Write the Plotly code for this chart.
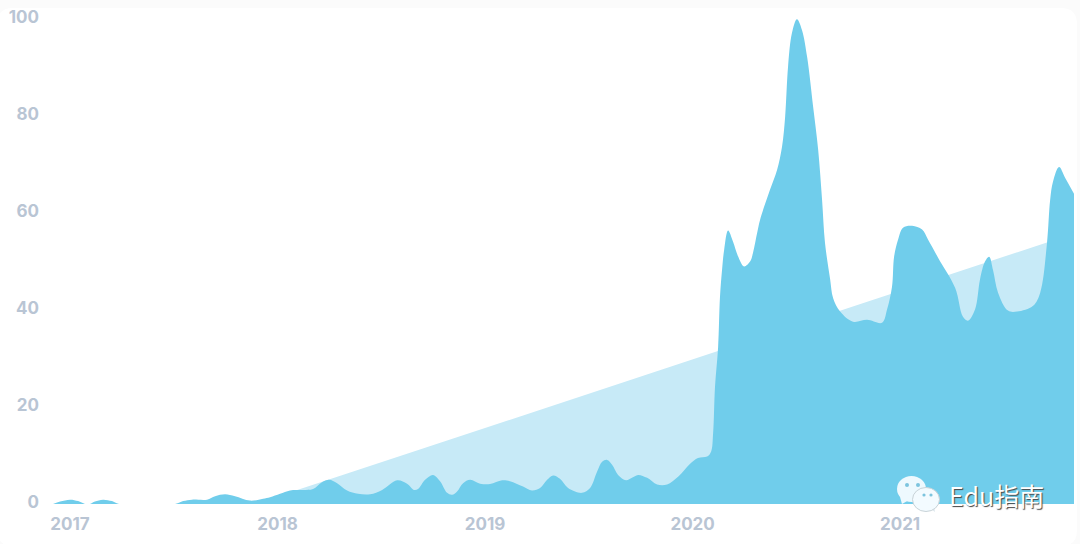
import plotly.graph_objects as go

# Decimal years and search-interest values
interest_x = [2016.918, 2016.952, 2017.0, 2017.039, 2017.072, 2017.096, 2017.12, 2017.159, 2017.202, 2017.236,
    2017.506, 2017.545, 2017.588, 2017.66, 2017.699, 2017.747, 2017.795, 2017.867, 2017.93, 2017.964,
    2018.012, 2018.06, 2018.123, 2018.171, 2018.214, 2018.248, 2018.287, 2018.335, 2018.388, 2018.446,
    2018.504, 2018.576, 2018.624, 2018.658, 2018.677, 2018.711, 2018.749, 2018.783, 2018.817, 2018.841,
    2018.865, 2018.894, 2018.928, 2018.976, 2019.024, 2019.082, 2019.12, 2019.183, 2019.226, 2019.265,
    2019.299, 2019.328, 2019.361, 2019.4, 2019.467, 2019.506, 2019.54, 2019.564, 2019.588, 2019.612,
    2019.641, 2019.679, 2019.708, 2019.737, 2019.781, 2019.829, 2019.877, 2019.93, 2019.988, 2020.026,
    2020.07, 2020.089, 2020.099, 2020.108, 2020.123, 2020.132, 2020.142, 2020.152, 2020.171, 2020.195,
    2020.219, 2020.248, 2020.277, 2020.291, 2020.311, 2020.325, 2020.373, 2020.407, 2020.431, 2020.446,
    2020.46, 2020.479, 2020.503, 2020.527, 2020.552, 2020.581, 2020.605, 2020.624, 2020.638, 2020.663,
    2020.677, 2020.711, 2020.773, 2020.841, 2020.913, 2020.937, 2020.961, 2020.971, 2020.99, 2021.014,
    2021.058, 2021.106, 2021.135, 2021.183, 2021.265, 2021.303, 2021.327, 2021.361, 2021.385, 2021.409,
    2021.429, 2021.448, 2021.472, 2021.52, 2021.564, 2021.641, 2021.675, 2021.708, 2021.723, 2021.737,
    2021.766, 2021.795, 2021.838]
interest_y = [0, 0.5, 0.9, 0.6, 0, 0, 0.5, 0.9, 0.6, 0,
    0, 0.6, 0.9, 0.9, 1.6, 2.0, 1.6, 0.7, 1.1, 1.4,
    2.1, 2.8, 2.9, 3.1, 4.5, 5.0, 4.3, 2.8, 2.1, 2.0,
    2.9, 4.9, 4.2, 2.9, 3.1, 5.0, 6.0, 4.7, 2.3, 1.9,
    2.6, 4.3, 5.0, 4.2, 4.1, 4.9, 4.7, 3.6, 2.8, 3.3,
    5.0, 5.9, 5.2, 3.3, 2.3, 3.3, 6.7, 8.7, 9.1, 8.1,
    6.0, 4.9, 5.4, 6.0, 5.4, 4.0, 4.0, 5.6, 8.3, 9.5,
    9.8, 10.8, 14.7, 24.2, 32.4, 42.7, 48.3, 52.4, 56.4, 54.1,
    51.1, 49.0, 50.0, 51.8, 55.9, 58.6, 64.8, 68.9, 73.7, 79.9,
    90.2, 97.2, 100, 97.8, 92.2, 81.9, 73.1, 62.7, 53.9, 46.3,
    42.5, 39.7, 37.6, 38.0, 37.4, 40.1, 44.8, 51.0, 54.5, 57.0,
    57.4, 56.6, 54.5, 50.8, 44.6, 38.6, 37.8, 40.1, 46.3, 50.0,
    51.0, 48.2, 43.6, 39.9, 39.7, 40.9, 43.6, 53.9, 62.7, 66.5,
    69.5, 67.3, 64.0]

trend_x = [2017.89, 2021.838]
trend_y = [0, 55.8]

year_ticks = [2017, 2018, 2019, 2020, 2021]
value_ticks = [0, 20, 40, 60, 80, 100]

DARK = "#70cdeb"
LIGHT = "#c7eaf7"
LABEL = "#b9c5d4"

# Plot-area box in page pixels, used only for decoration placement
L, R, T, B = 52, 1074, 10, 504
def px(v):
    return (v - L) / (R - L)
def py(v):
    return (B - v) / (B - T)

def circle(cx, cy, rx, ry, fill, line=None):
    return dict(type="circle", xref="paper", yref="paper", layer="above",
                x0=px(cx - rx), x1=px(cx + rx), y0=py(cy + ry), y1=py(cy - ry),
                fillcolor=fill, line=dict(width=1 if line else 0, color=line or fill))

def poly(points, fill):
    d = "M" + " L".join(f"{px(a):.5f},{py(b):.5f}" for a, b in points) + " Z"
    return dict(type="path", xref="paper", yref="paper", layer="above", path=d,
                fillcolor=fill, line=dict(width=0))

def card(x0, y0, x1, y1, r):
    c = lambda a, b: f"{px(a):.5f},{py(b):.5f}"
    d = (f"M{c(x0 + r, y0)} L{c(x1 - r, y0)} Q{c(x1, y0)} {c(x1, y0 + r)} "
         f"L{c(x1, y1 - r)} Q{c(x1, y1)} {c(x1 - r, y1)} L{c(x0 + r, y1)} "
         f"Q{c(x0, y1)} {c(x0, y1 - r)} L{c(x0, y0 + r)} Q{c(x0, y0)} {c(x0 + r, y0)} Z")
    return dict(type="path", xref="paper", yref="paper", layer="below", path=d,
                fillcolor="#ffffff", line=dict(width=0))

BUB = "#eef9fe"
shapes = [
    card(-3, 8, 1077, 546, 16),
    poly([(900, 497), (902, 504), (909, 500)], BUB),
    circle(911.5, 489, 14.5, 13, BUB),
    circle(907, 485, 2, 2, "#7cc4de"),
    circle(918, 485, 2, 2, "#7cc4de"),
    poly([(929, 508), (935, 512), (934, 505)], "#dfe9ee"),
    circle(926, 499.5, 13.5, 12, "#f3fbff", "#c8d3d8"),
    circle(924, 495, 1.6, 1.6, "#7cc4de"),
    circle(931, 495, 1.6, 1.6, "#7cc4de"),
]

fig = go.Figure()
fig.add_trace(go.Scatter(x=trend_x, y=trend_y, mode="lines", fill="tozeroy",
                         fillcolor=LIGHT, line=dict(width=0, color=LIGHT), hoverinfo="skip"))
fig.add_trace(go.Scatter(x=interest_x, y=interest_y, mode="lines", fill="tozeroy",
                         fillcolor=DARK, line=dict(width=0, color=DARK, shape="spline", smoothing=1),
                         hoverinfo="skip"))

tick_font = dict(family="Inter, sans-serif", size=17, color=LABEL, weight=700)
fig.update_layout(
    width=1080, height=544, autosize=False, showlegend=False,
    margin=dict(l=L, r=1080 - R, t=T, b=544 - B, pad=0),
    paper_bgcolor="#fbfbfb", plot_bgcolor="rgba(0,0,0,0)",
    shapes=shapes,
    annotations=[dict(
        text="Edu指南", xref="paper", yref="paper", x=px(947), y=py(495),
        xanchor="left", yanchor="middle", showarrow=False,
        font=dict(family="Noto Sans CJK SC", size=25, color="#ffffff", shadow="1px 1px 1px #444444"),
    )],
    xaxis=dict(range=[2016.913, 2021.838], tickmode="array", tickvals=year_ticks,
               ticktext=[str(y) for y in year_ticks], showgrid=False, zeroline=False,
               showline=False, ticks="", tickfont=tick_font, ticklabelstandoff=8),
    yaxis=dict(range=[0, 101.9], tickmode="array", tickvals=value_ticks,
               ticktext=[str(v) for v in value_ticks], showgrid=False, zeroline=False,
               showline=False, ticks="", tickfont=tick_font, ticklabelstandoff=12,
               ticklabelshift=-2),
)

fig.write_html("out.html", config=dict(displayModeBar=False),
               post_script="document.body.style.margin='0';document.body.style.background='#fbfbfb';")
